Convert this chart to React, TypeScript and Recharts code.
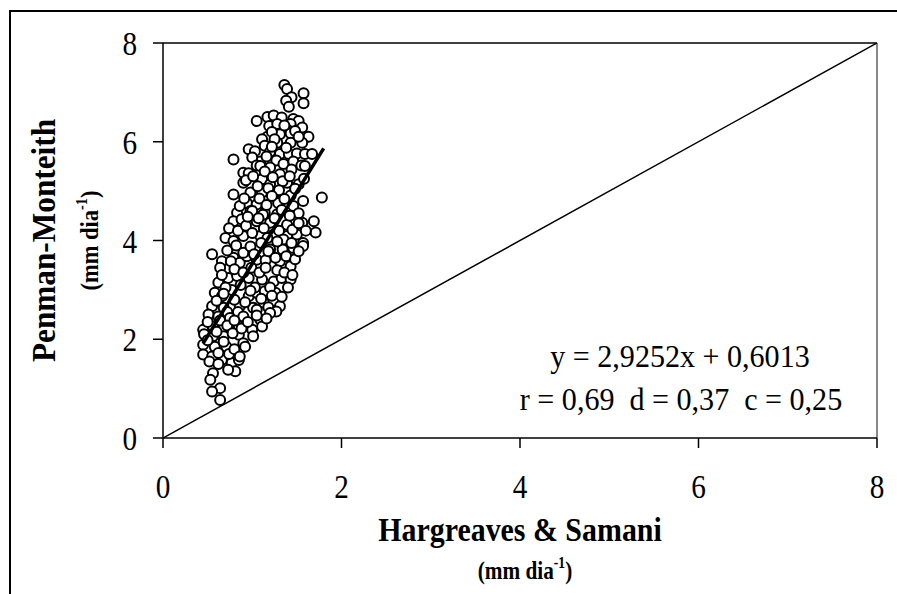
import React from "react";
import { ScatterChart, Scatter, XAxis, YAxis, ReferenceLine, Label } from "recharts";

// Hargreaves & Samani (x) vs Penman-Monteith (y), mm dia-1
const upperBand: [number, number][] = [
  [1.36, 7.15], [1.39, 7.07], [1.575, 6.98], [1.575, 6.78], [1.44, 6.9], [1.38, 6.83],
  [1.41, 6.71], [1.05, 6.42], [1.17, 6.5], [1.24, 6.53], [1.33, 6.49], [1.46, 6.46],
  [1.52, 6.42], [1.19, 6.32], [1.28, 6.36], [1.43, 6.36], [1.56, 6.29], [1.39, 6.25],
  [1.31, 6.15], [1.43, 6.17], [1.63, 6.1], [1.17, 6.1], [1.11, 6.05], [1.28, 5.98],
  [1.43, 5.98], [1.56, 5.98], [1.14, 5.92], [0.96, 5.85], [1.03, 5.81], [1.2, 5.8],
  [1.31, 5.75], [1.41, 5.75], [1.5, 5.76], [1.59, 5.75], [1.67, 5.75], [0.79, 5.64],
  [1.09, 5.6], [1.22, 6.2], [1.36, 6.33], [1.48, 6.22], [1.25, 6.05], [1.52, 6.1],
  [1.0, 5.68], [1.16, 5.7], [1.27, 5.62], [1.35, 5.55], [1.46, 5.6], [1.55, 5.52],
  [1.05, 5.52], [1.22, 5.9], [1.38, 5.88],
];

const middleBand: [number, number][] = [
  [0.9, 5.37], [0.96, 5.36], [1.09, 5.51], [1.2, 5.48], [1.31, 5.34], [1.44, 5.44],
  [1.59, 5.51], [0.9, 5.17], [1.11, 5.24], [1.2, 5.14], [1.39, 5.17], [1.52, 5.14],
  [0.79, 4.93], [1.78, 4.87], [0.98, 4.97], [1.11, 4.97], [1.26, 4.97], [1.43, 4.91],
  [0.94, 4.76], [1.05, 4.73], [1.29, 4.76], [1.57, 4.8], [0.83, 4.56], [0.98, 4.6],
  [1.14, 4.56], [1.28, 4.53], [0.79, 4.39], [0.88, 4.43], [1.05, 4.39], [1.2, 4.36],
  [1.39, 4.32], [1.56, 4.36], [1.69, 4.39], [0.7, 4.05], [0.79, 3.99], [0.9, 4.09],
  [1.09, 4.09], [1.24, 4.12], [1.39, 4.09], [1.5, 4.12], [1.71, 4.16], [1.57, 3.95],
  [0.93, 5.22], [1.01, 5.3], [1.14, 5.4], [1.18, 5.06], [1.23, 5.28], [1.34, 5.2],
  [1.42, 5.3], [1.48, 5.05], [1.58, 5.25], [1.06, 5.1], [1.3, 5.02], [0.86, 4.7],
  [0.91, 4.85], [1.0, 4.6], [1.08, 4.85], [1.16, 4.72], [1.22, 4.9], [1.33, 4.62],
  [1.36, 4.84], [1.46, 4.7], [1.52, 4.55], [1.12, 4.52], [1.42, 4.5], [0.74, 4.25],
  [0.84, 4.2], [0.93, 4.3], [1.0, 4.15], [1.07, 4.45], [1.13, 4.25], [1.17, 4.05],
  [1.25, 4.45], [1.3, 4.2], [1.35, 4.02], [1.45, 4.22], [1.52, 4.35], [1.6, 4.2],
  [0.95, 4.48],
];

const lowerBand: [number, number][] = [
  [0.55, 3.72], [0.66, 3.58], [0.64, 3.45], [0.79, 3.65], [0.86, 3.55], [0.94, 3.68],
  [1.05, 3.61], [1.2, 3.82], [1.31, 3.58], [1.43, 3.48], [1.46, 3.85], [1.57, 3.89],
  [0.73, 3.24], [0.83, 3.28], [0.96, 3.24], [1.11, 3.21], [1.24, 3.17], [1.33, 3.24],
  [1.43, 3.21], [0.58, 2.94], [0.66, 2.87], [0.77, 3.0], [0.96, 2.87], [1.05, 2.94],
  [1.14, 2.97], [1.26, 2.94], [0.55, 2.67], [0.68, 2.64], [0.86, 2.67], [1.01, 2.64],
  [1.13, 2.74], [1.31, 2.67], [0.72, 3.8], [0.76, 3.58], [0.82, 3.9], [0.9, 3.75],
  [0.98, 3.88], [1.02, 3.72], [1.1, 3.95], [1.15, 3.6], [1.18, 3.78], [1.26, 3.65],
  [1.34, 3.82], [1.38, 3.68], [1.48, 3.62], [1.52, 3.78], [1.44, 3.95], [1.28, 3.98],
  [0.62, 3.15], [0.66, 3.3], [0.7, 3.05], [0.8, 3.42], [0.87, 3.1], [0.9, 3.35],
  [0.99, 3.45], [1.03, 3.05], [1.08, 3.35], [1.15, 3.45], [1.2, 3.05], [1.28, 3.4],
  [1.36, 3.35], [1.4, 3.05], [1.45, 3.3], [0.6, 2.78], [0.68, 2.92], [0.72, 2.55],
  [0.8, 2.8], [0.84, 2.55], [0.92, 2.75], [0.98, 2.98], [1.05, 2.6], [1.1, 2.82],
  [1.18, 2.65], [1.22, 2.88], [1.33, 2.86], [1.27, 2.56],
];

const bottomBand: [number, number][] = [
  [0.51, 2.5], [0.62, 2.46], [0.75, 2.43], [0.9, 2.46], [1.09, 2.4], [1.2, 2.53],
  [0.45, 2.19], [0.56, 2.26], [0.68, 2.23], [0.85, 2.26], [1.0, 2.19], [1.11, 2.26],
  [0.46, 2.1], [0.56, 2.06], [0.68, 2.06], [0.85, 2.09], [1.01, 2.06], [0.45, 1.89],
  [0.58, 1.85], [0.71, 1.85], [0.9, 1.92], [0.45, 1.69], [0.55, 1.65], [0.66, 1.58],
  [0.77, 1.52], [0.85, 1.58], [0.81, 1.35], [0.73, 1.38], [0.56, 1.31], [0.53, 1.18],
  [0.64, 1.01], [0.55, 0.94], [0.64, 0.77], [0.5, 2.35], [0.6, 2.15], [0.64, 2.38],
  [0.72, 2.28], [0.78, 2.12], [0.8, 2.38], [0.88, 2.22], [0.95, 2.35], [1.05, 2.48],
  [1.16, 2.42], [0.5, 1.98], [0.62, 1.72], [0.68, 1.95], [0.74, 1.7], [0.8, 1.8],
  [0.86, 1.65], [0.92, 1.85], [0.52, 1.55], [0.62, 1.5],
];

// linear fit y = 2,9252x + 0,6013 between the extreme x values
const trendHs = [0.45, 1.8];
const trendPm = [1.918, 5.867];
// 1:1 line
const oneToOne = [0, 8];
const axisTicks = [0, 2, 4, 6, 8];

const equationText = "y = 2,9252x + 0,6013";
const statsText = "r = 0,69  d = 0,37  c = 0,25";

const points = [...upperBand, ...middleBand, ...lowerBand, ...bottomBand].map(([x, y]) => ({ x, y }));
const trendData = trendHs.map((x, i) => ({ x, y: trendPm[i] }));
const diagData = oneToOne.map((v) => ({ x: v, y: v }));

const serif = '"Liberation Serif", "Times New Roman", serif';

// the original export has slightly narrow, tall glyphs
const NarrowText = ({ x, y, size, sx = 0.86, anchor = "middle", bold = false, rotate = 0, dy, children }: any) => (
  <text
    transform={`translate(${x},${y}) rotate(${rotate}) scale(${sx},1)`}
    textAnchor={anchor}
    fontFamily={serif}
    fontSize={size}
    fontWeight={bold ? "bold" : "normal"}
    fill="#000"
    dy={dy}
    style={{ whiteSpace: "pre" }}
  >
    {children}
  </text>
);

const XTick = (props: any) => (
  <NarrowText x={props.x} y={props.y} size={34} dy="0.71em">
    {props.payload.value}
  </NarrowText>
);

const YTick = (props: any) => (
  <NarrowText x={props.x} y={props.y} size={34} anchor="end" dy="0.355em">
    {props.payload.value}
  </NarrowText>
);

const OpenCircle = (props: any) => (
  <circle cx={props.cx} cy={props.cy} r={5} fill="#fff" stroke="#000" strokeWidth={2} />
);
const NoMarker = () => <g />;

const XTitle = (props: any) => {
  const vb = props.viewBox || { x: 163, width: 714 };
  const cx = vb.x + vb.width / 2;
  return (
    <g>
      <NarrowText x={cx} y={541} size={34} sx={0.88} bold>
        {"Hargreaves & Samani"}
      </NarrowText>
      <NarrowText x={cx + 5} y={579} size={25} sx={0.85} bold>
        (mm dia<tspan fontSize={16} dy={-11}>-1</tspan>
        <tspan dy={11}>)</tspan>
      </NarrowText>
      <NarrowText x={680} y={367} size={32} sx={0.94}>
        {equationText}
      </NarrowText>
      <NarrowText x={681} y={410} size={32} sx={0.94}>
        {statsText}
      </NarrowText>
    </g>
  );
};

const YTitle = (props: any) => {
  const vb = props.viewBox || { y: 43, height: 395 };
  const cy = vb.y + vb.height / 2;
  return (
    <g>
      <NarrowText x={55} y={cy} size={34} sx={0.92} rotate={-90} bold>
        Penman-Monteith
      </NarrowText>
      <NarrowText x={98} y={cy} size={25} sx={0.9} rotate={-90} bold>
        (mm dia<tspan fontSize={16} dy={-11}>-1</tspan>
        <tspan dy={11}>)</tspan>
      </NarrowText>
    </g>
  );
};

export default function App() {
  return (
    <div style={{ position: "absolute", left: 0, top: 0, width: 897, height: 594, background: "#fff", overflow: "hidden" }}>
      <div
        style={{
          position: "absolute",
          left: 9,
          top: 10,
          width: 900,
          height: 600,
          borderTop: "2px solid #000",
          borderLeft: "2px solid #000",
        }}
      />
      <div style={{ position: "absolute", left: 0, top: 0 }}>
        <ScatterChart width={897} height={594} margin={{ top: 43, right: 20, bottom: 0, left: 0 }}>
          <XAxis
            type="number"
            dataKey="x"
            domain={[0, 8]}
            ticks={axisTicks}
            allowDataOverflow
            height={156}
            tickSize={10}
            tickMargin={26}
            tick={XTick}
            axisLine={{ stroke: "#000", strokeWidth: 1.5 }}
            tickLine={{ stroke: "#000", strokeWidth: 1.5 }}
          >
            <Label content={XTitle} />
          </XAxis>
          <YAxis
            type="number"
            dataKey="y"
            domain={[0, 8]}
            ticks={axisTicks}
            allowDataOverflow
            width={163}
            tickSize={10}
            tickMargin={16}
            tick={YTick}
            axisLine={{ stroke: "#000", strokeWidth: 1.5 }}
            tickLine={{ stroke: "#000", strokeWidth: 1.5 }}
          >
            <Label content={YTitle} />
          </YAxis>
          <ReferenceLine y={8} stroke="#000" strokeWidth={1.5} />
          <ReferenceLine x={8} stroke="#888" strokeWidth={2} />
          <Scatter
            data={diagData}
            line={{ stroke: "#000", strokeWidth: 1.5 }}
            shape={NoMarker}
            legendType="none"
            isAnimationActive={false}
          />
          <Scatter data={points} shape={OpenCircle} legendType="none" isAnimationActive={false} />
          <Scatter
            data={trendData}
            line={{ stroke: "#000", strokeWidth: 3.5 }}
            shape={NoMarker}
            legendType="none"
            isAnimationActive={false}
          />
        </ScatterChart>
      </div>
    </div>
  );
}
